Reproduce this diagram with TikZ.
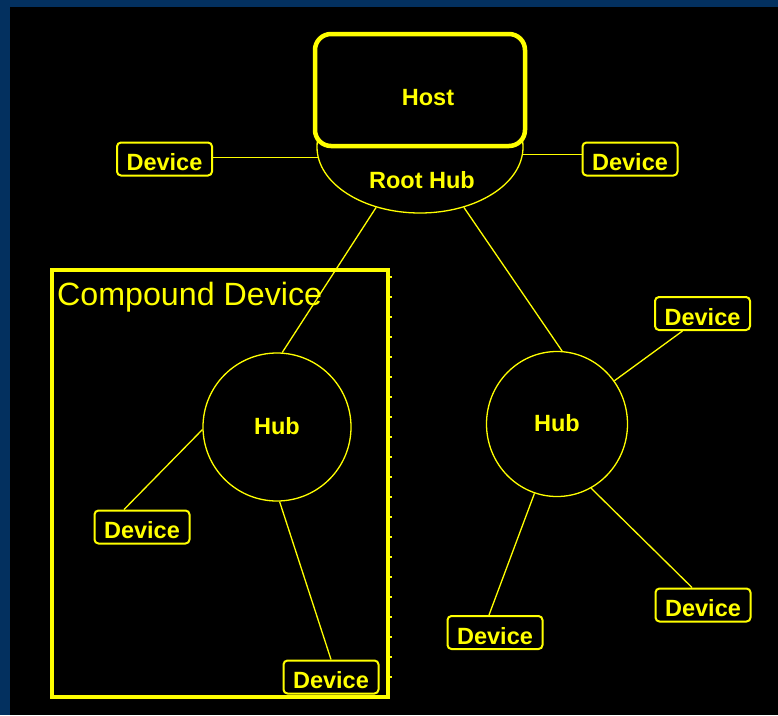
\documentclass[tikz,border=0pt]{standalone}
\usepackage{fontspec}
\setmainfont{Liberation Sans}
\usetikzlibrary{shapes.geometric,calc}
\definecolor{frameblue}{HTML}{03305F}
\definecolor{usbyellow}{HTML}{FFFF00}
\begin{document}
\begin{tikzpicture}[x=1pt,y=-1pt,
  every node/.style={text=usbyellow},
  device/.style={draw=usbyellow, line width=2pt, rounded corners=4pt,
    minimum width=95pt, inner xsep=0pt, inner ysep=3pt,
    text height=25pt, text depth=2pt,
    font=\fontsize{23.5}{23.5}\selectfont\bfseries},
  hubshape/.style={draw=usbyellow, line width=1.3pt, ellipse, inner sep=0pt},
  link/.style={draw=usbyellow, line width=1.3pt},
  boldlabel/.style={font=\fontsize{23.5}{23.5}\selectfont\bfseries,
    anchor=base, inner sep=0pt}
]
% frame and background
\fill[frameblue] (0,0) rectangle (778,715);
\fill[black] (10,7) rectangle (778,715);
\useasboundingbox (0,0) rectangle (778,715);

% compound device enclosure
\node[draw=usbyellow, line width=3.5pt, minimum width=336pt,
  minimum height=427pt, inner sep=0pt] (compound) at (220,483.5) {};
\foreach \ty in {277,297,...,677}
  \draw[usbyellow, line width=1.3pt] (388,\ty) -- (392,\ty);
\node[anchor=base west, inner sep=0pt,
  font=\fontsize{32.2}{32.2}\selectfont] (compoundlabel) at (57,305) {Compound Device};

% host with its root hub
\node[hubshape, minimum width=206pt, minimum height=132pt] (rhub) at (420,147) {};
\node[draw=usbyellow, fill=black, line width=4.5pt, rounded corners=16pt,
  minimum width=210pt, minimum height=112pt] (host) at (420,90) {};
\node[boldlabel] (hostlabel) at (428,105) {Host};
\node[boldlabel] (rhublabel) at (422,188) {Root Hub};

% hubs
\node[hubshape, minimum width=148pt, minimum height=148pt] (lhub) at (277,427) {};
\node[boldlabel] (lhublabel) at (277,434) {Hub};
\node[hubshape, minimum width=141pt, minimum height=145pt] (hubR) at (557,424) {};
\node[boldlabel] (hubRlabel) at (557,431) {Hub};

% devices
\node[device] (devL) at (164.5,159) {Device};
\node[device] (devR) at (630,159) {Device};
\node[device] (devA) at (142,527) {Device};
\node[device] (devB) at (331,677) {Device};
\node[device] (devC) at (702.5,313.5) {Device};
\node[device] (devD) at (495,632.5) {Device};
\node[device] (devE) at (703,605) {Device};

% connections
\draw[link] (devL.east |- rhub.186.8) -- (rhub.186.8);
\draw[link] (rhub.-4.5) -- (devR.west |- rhub.-4.5);
\draw[link] (rhub.234.5) -- (lhub.86);
\draw[link] (rhub.306.4) -- (hubR.86);
\draw[link] (lhub.182) -- ([xshift=30.5pt]devA.north west);
\draw[link] (lhub.272.4) -- (devB.north);
\draw[link] (hubR.37) -- ([xshift=-20pt]devC.south);
\draw[link] (hubR.252.4) -- ([xshift=-6pt]devD.north);
\draw[link] (hubR.298) -- ([xshift=-11pt]devE.north);
\end{tikzpicture}
\end{document}
